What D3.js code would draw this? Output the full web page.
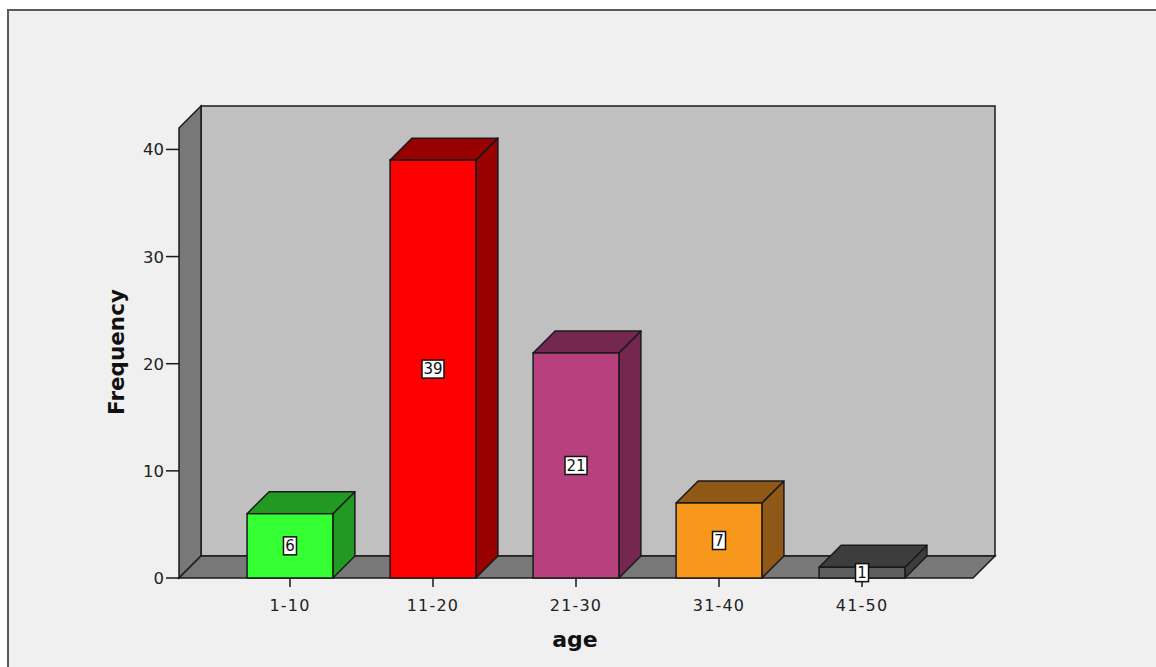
<!DOCTYPE html>
<html>
<head>
<meta charset="utf-8">
<script src="https://cdn.jsdelivr.net/npm/d3@7"></script>
<style>
html,body{margin:0;padding:0;background:#ffffff;}
svg{display:block;}
</style>
</head>
<body>
<svg id="chart" width="1156" height="667"></svg>
<script>
const categories = ["1-10", "11-20", "21-30", "31-40", "41-50"];
const values = [6, 39, 21, 7, 1];
const frontColors = ["#33ff33", "#ff0000", "#b9407e", "#f7981d", "#5e5e5e"];
const shadeColors = ["#229922", "#990000", "#742850", "#905816", "#3d3d3d"];
const yTicks = [0, 10, 20, 30, 40];
const xTitle = "age";
const yTitle = "Frequency";

const svg = d3.select("#chart");
const font = "'DejaVu Sans', Verdana, sans-serif";

// outer frame
svg.append("rect").attr("x", 8).attr("y", 10).attr("width", 1200).attr("height", 700)
  .attr("fill", "#f0f0f0").attr("stroke", "#5a5a5a").attr("stroke-width", 2);

const x0 = 179, x1 = 973, yBase = 578, yTop = 128;
const DX = 22, DY = -22;

const y = d3.scaleLinear().domain([0, 42]).range([yBase, yTop]);
const x = d3.scaleBand().domain(categories).range([x0, x1]).paddingInner(0.4).paddingOuter(0.476);

const line = d3.line();
const stroke = "#1a1a1a";

// back wall
svg.append("path")
  .attr("d", line([[x0 + DX, yTop + DY], [x1 + DX, yTop + DY], [x1 + DX, yBase + DY], [x0 + DX, yBase + DY]]) + "Z")
  .attr("fill", "#c0c0c0").attr("stroke", stroke).attr("stroke-width", 1.5);
// left wall
svg.append("path")
  .attr("d", line([[x0, yTop], [x0 + DX, yTop + DY], [x0 + DX, yBase + DY], [x0, yBase]]) + "Z")
  .attr("fill", "#787878").attr("stroke", stroke).attr("stroke-width", 1.5);
// floor
svg.append("path")
  .attr("d", line([[x0, yBase], [x0 + DX, yBase + DY], [x1 + DX, yBase + DY], [x1, yBase]]) + "Z")
  .attr("fill", "#787878").attr("stroke", stroke).attr("stroke-width", 1.5);

// y axis ticks
const yg = svg.append("g");
yTicks.forEach(t => {
  yg.append("line").attr("x1", x0 - 13).attr("x2", x0).attr("y1", y(t)).attr("y2", y(t))
    .attr("stroke", stroke).attr("stroke-width", 1.5);
  yg.append("text").attr("x", x0 - 15).attr("y", y(t)).attr("dy", "0.36em")
    .attr("text-anchor", "end").attr("font-family", font).attr("font-size", 16.5)
    .attr("fill", "#222").text(t);
});

// x ticks
const xg = svg.append("g");
categories.forEach(c => {
  const cx = x(c) + x.bandwidth() / 2;
  xg.append("line").attr("x1", cx).attr("x2", cx).attr("y1", yBase).attr("y2", yBase + 9)
    .attr("stroke", stroke).attr("stroke-width", 1.5);
  xg.append("text").attr("x", cx).attr("y", yBase + 33)
    .attr("text-anchor", "middle").attr("font-family", font).attr("font-size", 16)
    .attr("letter-spacing", 1.2)
    .attr("fill", "#222").text(c);
});

// bars
const bg = svg.append("g");
categories.forEach((c, i) => {
  const bx = x(c), bw = x.bandwidth(), by = y(values[i]);
  const g = bg.append("g");
  // side
  g.append("path")
    .attr("d", line([[bx + bw, by], [bx + bw + DX, by + DY], [bx + bw + DX, yBase + DY], [bx + bw, yBase]]) + "Z")
    .attr("fill", shadeColors[i]).attr("stroke", stroke).attr("stroke-width", 1.5).attr("stroke-linejoin", "round");
  // top
  g.append("path")
    .attr("d", line([[bx, by], [bx + DX, by + DY], [bx + bw + DX, by + DY], [bx + bw, by]]) + "Z")
    .attr("fill", shadeColors[i]).attr("stroke", stroke).attr("stroke-width", 1.5).attr("stroke-linejoin", "round");
  // front
  g.append("rect").attr("x", bx).attr("y", by).attr("width", bw).attr("height", yBase - by)
    .attr("fill", frontColors[i]).attr("stroke", stroke).attr("stroke-width", 1.5);
  // value label
  const cx = bx + bw / 2, cy = (by + yBase) / 2;
  const txt = String(values[i]);
  const w = txt.length * 9 + 4;
  g.append("rect").attr("x", cx - w / 2).attr("y", cy - 9).attr("width", w).attr("height", 18)
    .attr("fill", "#ffffff").attr("stroke", "#111").attr("stroke-width", 1.5);
  g.append("text").attr("x", cx).attr("y", cy).attr("dy", "0.36em")
    .attr("text-anchor", "middle").attr("font-family", font).attr("font-size", 15)
    .attr("fill", "#111").text(txt);
});

// axis titles
svg.append("text").attr("x", (x0 + x1) / 2 - 1).attr("y", 647)
  .attr("text-anchor", "middle").attr("font-family", font).attr("font-size", 22)
  .attr("font-weight", "bold").attr("fill", "#111").text(xTitle);
svg.append("text").attr("transform", "translate(124,352) rotate(-90)")
  .attr("text-anchor", "middle").attr("font-family", font).attr("font-size", 21.5)
  .attr("font-weight", "bold").attr("fill", "#111").text(yTitle);
</script>
</body>
</html>
